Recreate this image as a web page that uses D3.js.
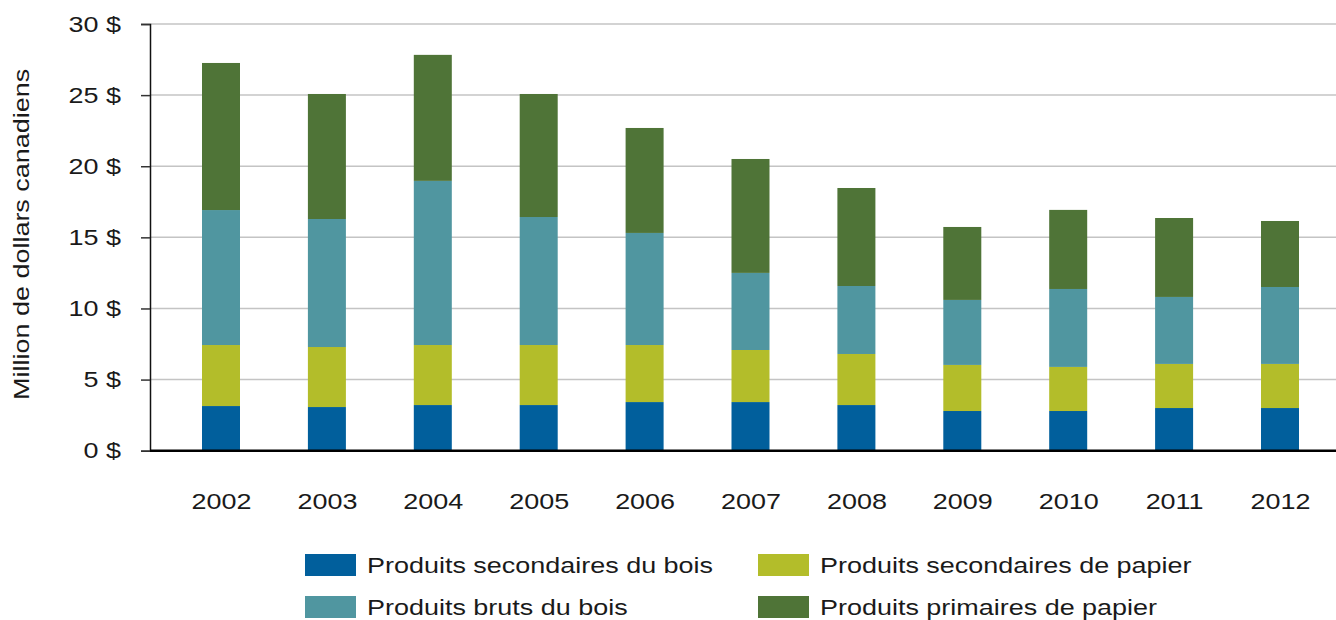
<!DOCTYPE html>
<html>
<head>
<meta charset="utf-8">
<script src="https://cdn.jsdelivr.net/npm/d3@7/dist/d3.min.js"></script>
<style>
  html, body { margin: 0; padding: 0; background: #fff; }
  svg { display: block; }
  text { font-family: "Liberation Sans", Arial, sans-serif; fill: #1a1a1a; }
</style>
</head>
<body>
<svg id="chart" width="1336" height="620"></svg>
<script>
// Exports by product group, millions of Canadian dollars
const years = ["2002","2003","2004","2005","2006","2007","2008","2009","2010","2011","2012"];
const secondairesBois   = [3.14, 3.07, 3.21, 3.21, 3.42, 3.42, 3.21, 2.79, 2.79, 3.00, 3.00];
const secondairesPapier = [4.29, 4.22, 4.22, 4.22, 4.01, 3.66, 3.59, 3.24, 3.10, 3.10, 3.10];
const brutsBois         = [9.49, 9.00, 11.54, 9.00, 7.88, 5.42, 4.78, 4.57, 5.48, 4.71, 5.41];
const primairesPapier   = [10.34, 8.79, 8.86, 8.65, 7.38, 8.01, 6.89, 5.13, 5.56, 5.55, 4.64];
const seriesNames = [
  "Produits secondaires du bois",
  "Produits secondaires de papier",
  "Produits bruts du bois",
  "Produits primaires de papier"
];
const yTicks = [0, 5, 10, 15, 20, 25, 30];
const yTitle = "Million de dollars canadiens";

const colors = ["#015f9c", "#b3bd2a", "#5096a0", "#4f7437"];
const seriesValues = [secondairesBois, secondairesPapier, brutsBois, primairesPapier];

const rows = years.map((yr, i) => {
  const r = { year: yr };
  seriesNames.forEach((n, k) => { r[n] = seriesValues[k][i]; });
  return r;
});
const stacked = d3.stack().keys(seriesNames)(rows);

const svg = d3.select("#chart");
const plotLeft = 150, plotRight = 1336;
const x = d3.scalePoint().domain(years).range([221, 1280]);
const barWidth = 38;
const y = d3.scaleLinear().domain([0, 30]).range([450.7, 24]);

// gridlines
svg.append("g")
  .selectAll("line")
  .data(yTicks.filter(t => t > 0))
  .join("line")
  .attr("x1", plotLeft).attr("x2", plotRight)
  .attr("y1", d => y(d)).attr("y2", d => y(d))
  .attr("stroke", "#c4c4c4").attr("stroke-width", 1.5);

// stacked bars
svg.append("g")
  .selectAll("g")
  .data(stacked)
  .join("g")
  .attr("fill", (d, k) => colors[k])
  .selectAll("rect")
  .data(d => d)
  .join("rect")
  .attr("x", d => x(d.data.year) - barWidth / 2)
  .attr("width", barWidth)
  .attr("y", d => y(d[1]))
  .attr("height", d => y(d[0]) - y(d[1]));

// y axis
const yAxis = d3.axisLeft(y).tickValues(yTicks).tickSize(9).tickPadding(20)
  .tickFormat(d => d + " $");
const gy = svg.append("g").attr("transform", `translate(${plotLeft},0)`).call(yAxis);
gy.select(".domain").attr("stroke", "#111").attr("stroke-width", 1.5);
gy.selectAll(".tick line").attr("stroke", "#333").attr("stroke-width", 1.5);
gy.selectAll(".tick text")
  .attr("font-size", 22).attr("fill", "#1a1a1a")
  .style("font-family", '"Liberation Sans", Arial, sans-serif');

// baseline
svg.append("line")
  .attr("x1", plotLeft).attr("x2", plotRight)
  .attr("y1", y(0)).attr("y2", y(0))
  .attr("stroke", "#000").attr("stroke-width", 2.5);

// x axis labels
const xAxis = d3.axisBottom(x).tickSize(0).tickPadding(43);
const gx = svg.append("g").attr("transform", `translate(0,${y(0)})`).call(xAxis);
gx.select(".domain").remove();
gx.selectAll(".tick text")
  .attr("font-size", 22).attr("fill", "#1a1a1a")
  .style("font-family", '"Liberation Sans", Arial, sans-serif');

// y axis title
svg.append("text")
  .attr("transform", `translate(29,${(y(0) + y(30)) / 2 - 3}) rotate(-90)`)
  .attr("text-anchor", "middle")
  .attr("font-size", 22)
  .text(yTitle);

// legend
const legendPos = [
  { sx: 305, ty: 554 },
  { sx: 758, ty: 554 },
  { sx: 305, ty: 596 },
  { sx: 758, ty: 596 }
];
const legend = svg.append("g");
seriesNames.forEach((name, k) => {
  const p = legendPos[k];
  legend.append("rect")
    .attr("x", p.sx).attr("y", p.ty)
    .attr("width", 51).attr("height", 22)
    .attr("fill", colors[k]);
  legend.append("text")
    .attr("x", p.sx + 62).attr("y", p.ty + 19)
    .attr("font-size", 22)
    .text(name);
});

// the typeface used here runs wide: widen every label by the same factor
const widen = 1.225;
svg.selectAll("text").each(function () {
  const w = this.getComputedTextLength();
  d3.select(this)
    .attr("textLength", w * widen)
    .attr("lengthAdjust", "spacingAndGlyphs");
});
</script>
</body>
</html>
